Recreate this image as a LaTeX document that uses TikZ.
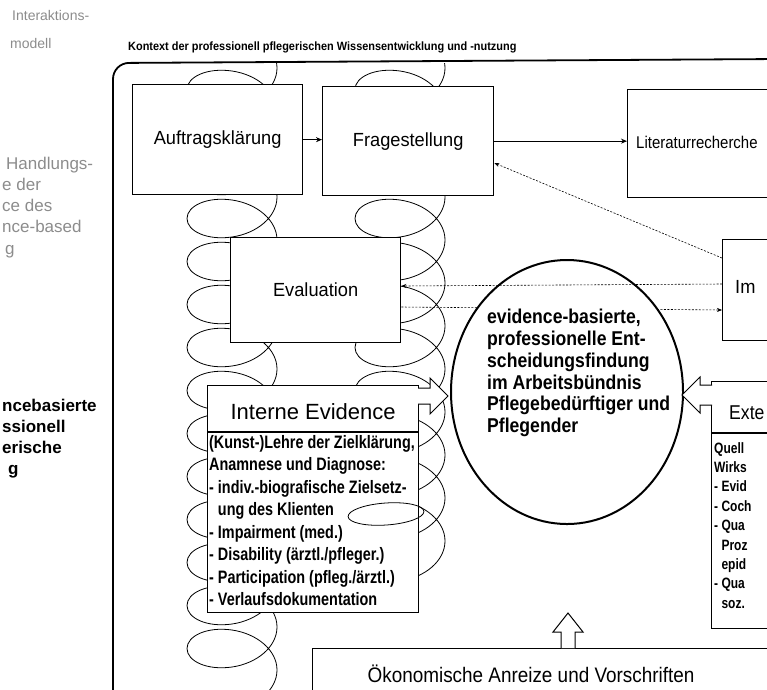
\documentclass[tikz,border=0pt]{standalone}
\usepackage{fontspec}
\setmainfont{Liberation Sans}
\newfontfamily\fA[FakeStretch=0.96]{Liberation Sans}
\newfontfamily\fN[FakeStretch=0.8]{Liberation Sans}
\newfontfamily\fC[FakeStretch=0.88]{Liberation Sans}
\newfontfamily\fT[FakeStretch=0.91]{Liberation Sans}
\newfontfamily\fO[FakeStretch=0.9]{Liberation Sans}
\newfontfamily\fL[FakeStretch=0.88]{Liberation Sans}
\usetikzlibrary{decorations.pathmorphing,arrows.meta,calc,shapes.geometric}
\begin{document}
\begin{tikzpicture}[x=1pt,y=-1pt,
  box/.style={draw, line width=1.3pt, fill=white, inner sep=0pt, anchor=north west},
  lbl/.style={font=\fA\fontsize{19}{22}\selectfont},
  conn/.style={line width=0.8pt, -{Stealth[length=6pt,width=5pt]}},
  dashconn/.style={line width=0.6pt, dash pattern=on 2pt off 1.5pt, -{Stealth[length=5pt,width=4pt]}},
  coilline/.style={decorate, decoration={coil, amplitude=45pt, segment length=43pt, aspect=0.65}, line width=0.8pt},
  blockarrow/.style={draw, line width=1pt, fill=white, line join=miter},
  graytxt/.style={anchor=base west, inner sep=0pt, text=black!45, font=\fontsize{17}{19}\selectfont},
  sidetxt/.style={anchor=base west, inner sep=0pt, font=\bfseries\fontsize{17}{20}\selectfont},
]
\useasboundingbox (0,0) rectangle (767,689);
\begin{scope}
\clip (0,0) rectangle (767,689);

% left cropped texts
\node[graytxt, font=\fontsize{14}{16}\selectfont] (g0) at (12,20) {Interaktions-};
\node[graytxt, font=\fontsize{14}{16}\selectfont] (g00) at (10,48) {modell};
\node[graytxt] (g1) at (6,169) {Handlungs-};
\node[graytxt] (g2) at (2,190) {e der};
\node[graytxt] (g3) at (2,211) {ce des};
\node[graytxt] (g4) at (2,232) {nce-based};
\node[graytxt] (g5) at (5,254) {g};
\node[sidetxt] (s1) at (2,411) {ncebasierte};
\node[sidetxt] (s2) at (2,432) {ssionell};
\node[sidetxt] (s3) at (2,453) {erische};
\node[sidetxt] (s4) at (8,474) {g};

% title
\node[anchor=west, font=\fT\bfseries\fontsize{12}{14}\selectfont, inner sep=0] (title) at (128,47) {Kontext der professionell pflegerischen Wissensentwicklung und -nutzung};

% coils
\begin{scope}
\clip (113,63) rectangle (767,689);
\draw[coilline] (232,28) -- (232,720);
\draw[coilline] (400,28) -- (400,600);
\end{scope}

% outer frame
\draw[line width=1.8pt, rounded corners=16pt] (113,700) -- (113,63) -- (780,59);

% boxes
\node[box, lbl, minimum width=170, minimum height=110] (auftrag) at (132,84) {Auftragsklärung};
\node[box, lbl, minimum width=171, minimum height=109] (frage) at (322,86) {Fragestellung};
\node[box, minimum width=180, minimum height=108] (lit) at (627,89) {};
\node[anchor=west, inner sep=0, font=\fL\fontsize{17}{20}\selectfont] (littxt) at (636,142) {Literaturrecherche};
\node[box, minimum width=80, minimum height=101] (im) at (722,239) {};
\node[lbl, anchor=west, inner sep=0] (imtxt) at (735,287) {Im};
\node[box, lbl, minimum width=170, minimum height=105] (eval) at (230,237) {Evaluation};

% connectors
\draw[conn] (auftrag.east) -- (frage.west |- auftrag.east);
\draw[conn] (frage.east) -- (frage.east -| lit.west);
\draw[dashconn] ($(im.north west)+(0,19)$) -- ($(frage.north east)+(0,77)$);
\draw[dashconn] ($(eval.north east)+(0,70)$) -- ($(im.north west)+(0,71)$);

% circle
\node[draw, ellipse, line width=2pt, fill=white, minimum width=232, minimum height=264, inner sep=0] (circ) at (567,392) {};
\draw[dashconn] ($(im.north west)+(0,45)$) -- ($(eval.north east)+(0,49)$);
\node[anchor=north west, align=left, inner sep=0, font=\fC\bfseries\fontsize{20}{21.8}\selectfont] (circtxt) at (487,309) {evidence-basierte,\\professionelle Ent-\\scheidungsfindung\\im Arbeitsbündnis\\Pflegebedürftiger und\\Pflegender};

% interne evidence
\node[box, minimum width=211, minimum height=227] (intern) at (207,385) {};
\draw[line width=1.3pt] ($(intern.north west)+(0,47)$) -- ($(intern.north east)+(0,47)$);
\node[font=\fontsize{22}{24}\selectfont] (interntitle) at ($(intern.north)+(0,27)$) {Interne Evidence};
\node[anchor=north west, align=left, inner sep=0, font=\fN\bfseries\fontsize{18}{22.5}\selectfont] (internbody) at (209,435) {(Kunst-)Lehre der Zielklärung,\\Anamnese und Diagnose:\\- indiv.-biografische Zielsetz-\\\phantom{- }ung des Klienten\\- Impairment (med.)\\- Disability (ärztl./pfleger.)\\- Participation (pfleg./ärztl.)\\- Verlaufsdokumentation};
\draw[line width=0.8pt, rotate around={4:(386,514)}] (386,514) ellipse [x radius=38, y radius=11];

% externe evidence
\node[box, minimum width=100, minimum height=247] (extern) at (711,381) {};
\draw[line width=1.3pt] ($(extern.north west)+(0,52)$) -- ($(extern.north east)+(0,52)$);
\node[anchor=west, inner sep=0, font=\fL\fontsize{20}{22}\selectfont] (externtitle) at (729,413) {Exte};
\node[anchor=north west, align=left, inner sep=0, font=\fN\bfseries\fontsize{15}{19.4}\selectfont] (externbody) at (714,442) {Quell\\Wirks\\- Evid\\- Coch\\- Qua\\\phantom{- }Proz\\\phantom{- }epid\\- Qua\\\phantom{- }soz.};

% oekonomische
\node[box, minimum width=480, minimum height=80] (oekon) at (312,648) {};
\node[font=\fO\fontsize{21}{23}\selectfont] (oekontxt) at (531,674) {Ökonomische Anreize und Vorschriften};

% block arrows
\draw[blockarrow] (418,388) -- (430,388) -- (430,378) -- (448,396) -- (430,414) -- (430,404) -- (418,404);
\draw[blockarrow] (712,385) -- (700,385) -- (700,377) -- (682,395) -- (700,413) -- (700,405) -- (712,405);
\draw[blockarrow] (561,648) -- (561,632) -- (553,632) -- (568,613) -- (583,632) -- (575,632) -- (575,648);
\end{scope}
\end{tikzpicture}
\end{document}
